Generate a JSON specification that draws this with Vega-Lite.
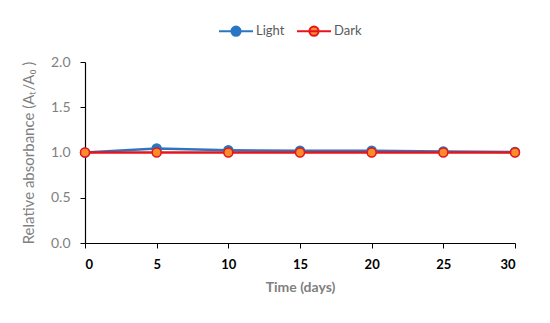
{
  "$schema": "https://vega.github.io/schema/vega-lite/v6.json",
  "width": 430,
  "height": 181,
  "autosize": {"type": "none"},
  "padding": {"left": 85, "top": 62, "right": 35, "bottom": 80},
  "background": "white",
  "config": {
    "view": {"stroke": null},
    "font": "Lato"
  },
  "data": {
    "values": [
      {"series": "Light", "day": 0, "value": 1.0},
      {"series": "Light", "day": 5, "value": 1.045},
      {"series": "Light", "day": 10, "value": 1.025},
      {"series": "Light", "day": 15, "value": 1.02},
      {"series": "Light", "day": 20, "value": 1.02},
      {"series": "Light", "day": 25, "value": 1.012},
      {"series": "Light", "day": 30, "value": 1.005},
      {"series": "Dark", "day": 0, "value": 1.0},
      {"series": "Dark", "day": 5, "value": 1.0},
      {"series": "Dark", "day": 10, "value": 1.0},
      {"series": "Dark", "day": 15, "value": 1.0},
      {"series": "Dark", "day": 20, "value": 1.0},
      {"series": "Dark", "day": 25, "value": 1.0},
      {"series": "Dark", "day": 30, "value": 1.0}
    ]
  },
  "encoding": {
    "x": {
      "field": "day", "type": "quantitative",
      "scale": {"domain": [0, 30], "nice": false},
      "axis": {
        "title": "Time (days)", "values": [0, 5, 10, 15, 20, 25, 30],
        "grid": false, "domainColor": "black", "domainWidth": 1.2, "tickColor": "black", "tickSize": 5,
        "labelFont": "Lato", "labelFontSize": 13, "labelFontWeight": "bold", "labelColor": "black", "labelPadding": 10,
        "titleFont": "Lato", "titleFontSize": 14, "titleFontWeight": "bold", "titleColor": "#7f7f7f", "titlePadding": 9
      }
    },
    "y": {
      "field": "value", "type": "quantitative",
      "scale": {"domain": [0, 2], "nice": false},
      "axis": {
        "title": "Relative absorbance (Aₜ/A₀ )", "values": [0, 0.5, 1, 1.5, 2], "format": ".1f",
        "grid": false, "domainColor": "black", "domainWidth": 1.2, "tickColor": "black", "tickSize": 5,
        "labelFont": "Lato", "labelFontSize": 14, "labelFontWeight": "normal", "labelColor": "#7f7f7f", "labelPadding": 10,
        "titleFont": "Lato", "titleFontSize": 15, "titleFontWeight": "normal", "titleColor": "#7f7f7f", "titlePadding": 14
      }
    },
    "stroke": {
      "field": "series", "type": "nominal",
      "scale": {"domain": ["Light", "Dark"], "range": ["#2a76c2", "#e8141c"]},
      "legend": {
        "title": null, "orient": "none", "direction": "horizontal", "legendX": 133, "legendY": -49,
        "symbolType": "M-1,0H1M-0.27,0A0.27,0.27,0,1,1,0.27,0A0.27,0.27,0,1,1,-0.27,0",
        "symbolSize": 1156, "symbolStrokeWidth": 2, "columnPadding": 8,
        "labelFont": "Lato", "labelFontSize": 13, "labelColor": "#595959", "labelOffset": 2
      }
    }
  },
  "layer": [
    {
      "mark": {"type": "line", "strokeWidth": 2.5},
      "encoding": {
        "order": {"field": "day"}
      }
    },
    {
      "mark": {"type": "point", "filled": false, "size": 80, "strokeWidth": 1.5, "opacity": 1},
      "encoding": {
        "fill": {
          "field": "series", "type": "nominal",
          "scale": {"domain": ["Light", "Dark"], "range": ["#2a76c2", "#fb8c2a"]},
          "legend": {
            "title": null, "orient": "none", "direction": "horizontal", "legendX": 133, "legendY": -49,
            "symbolType": "M-1,0H1M-0.27,0A0.27,0.27,0,1,1,0.27,0A0.27,0.27,0,1,1,-0.27,0",
            "symbolSize": 1156, "symbolStrokeWidth": 2, "columnPadding": 8,
            "labelFont": "Lato", "labelFontSize": 13, "labelColor": "#595959", "labelOffset": 2
          }
        }
      }
    }
  ]
}
